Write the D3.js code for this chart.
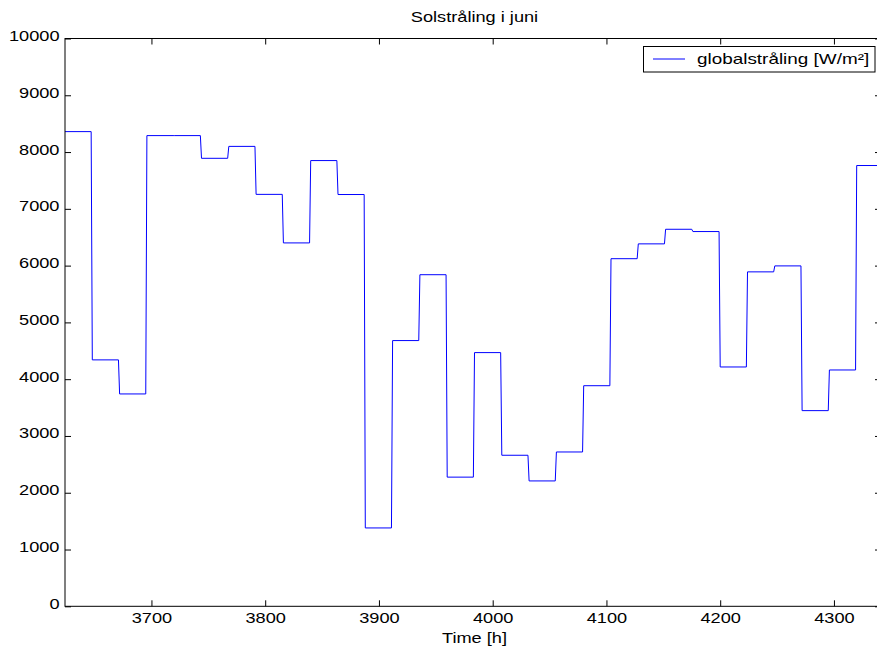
<!DOCTYPE html>
<html>
<head>
<meta charset="utf-8">
<script src="https://cdn.jsdelivr.net/npm/d3@7/dist/d3.min.js"></script>
<style>
  html, body { margin: 0; padding: 0; background: #fff; }
  svg { display: block; }
  text { font-family: "Liberation Sans", Arial, Helvetica, sans-serif; font-size: 14px; fill: #000; }
</style>
</head>
<body>
<script>
// Hourly simulation time for June: hour 3624 to 4344, one value per day
const startHour = 3624;
const endHour = 4344;
const hoursPerDay = 24;
const dailyRadiation = [
  8360, 4340, 3740, 8290, 8290, 7890, 8100, 7255, 6400, 7850,
  7252, 1380, 4680, 5840, 2275, 4468, 2660, 2208, 2718, 3885,
  6122, 6383, 6640, 6600, 4215, 5890, 5995, 3446, 4162, 7763
];
const xTicks = [3700, 3800, 3900, 4000, 4100, 4200, 4300];
const yTicks = [0, 1000, 2000, 3000, 4000, 5000, 6000, 7000, 8000, 9000, 10000];
const titleText = "Solstråling i juni";
const xLabelText = "Time [h]";
const legendText = "globalstråling [W/m²]";

const W = 877, H = 652;
const plotLeft = 65, plotRight = 884, plotTop = 38.5, plotBottom = 606.3;
const textScale = 1.3;
const tick = 6;

const svg = d3.select("body").append("svg").attr("width", W).attr("height", H);

const x = d3.scaleLinear().domain([startHour, endHour]).range([plotLeft, plotRight]);
const y = d3.scaleLinear().domain([0, 10000]).range([plotBottom, plotTop]);

// Each day is held constant over its hours; the next day starts one hour later
const points = [];
dailyRadiation.forEach((v, i) => {
  const s = startHour + i * hoursPerDay;
  points.push([s, v]);
  points.push([s + hoursPerDay - 1, v]);
});

svg.append("clipPath").attr("id", "plotclip")
  .append("rect").attr("x", plotLeft).attr("y", plotTop)
  .attr("width", plotRight - plotLeft).attr("height", plotBottom - plotTop);

svg.append("path")
  .datum(points)
  .attr("clip-path", "url(#plotclip)")
  .attr("fill", "none")
  .attr("stroke", "#0000ff")
  .attr("stroke-width", 1)
  .attr("d", d3.line().x(d => x(d[0])).y(d => y(d[1])));

// Axes with inward ticks on all four sides
const gB = svg.append("g").attr("transform", `translate(0,${plotBottom})`)
  .call(d3.axisBottom(x).tickValues(xTicks).tickSizeInner(-tick).tickSizeOuter(0).tickFormat(d3.format("d")));
const gT = svg.append("g").attr("transform", `translate(0,${plotTop})`)
  .call(d3.axisTop(x).tickValues(xTicks).tickSizeInner(-tick).tickSizeOuter(0).tickFormat(""));
const gL = svg.append("g").attr("transform", `translate(${plotLeft},0)`)
  .call(d3.axisLeft(y).tickValues(yTicks).tickSizeInner(-tick).tickSizeOuter(0).tickFormat(d3.format("d")));
const gR = svg.append("g").attr("transform", `translate(${plotRight},0)`)
  .call(d3.axisRight(y).tickValues(yTicks).tickSizeInner(-(tick + 3)).tickSizeOuter(0).tickFormat(""));

[gB, gT, gL, gR].forEach(g => {
  g.select(".domain").remove();
  g.selectAll(".tick line").attr("stroke", "#000").attr("stroke-width", 1);
  g.attr("font-family", null).attr("font-size", null);
});

gB.selectAll(".tick text")
  .attr("y", null).attr("dy", null)
  .attr("text-anchor", "middle")
  .attr("transform", `translate(0,16.5) scale(${textScale},1)`);
gL.selectAll(".tick text")
  .attr("x", null).attr("dy", null)
  .attr("text-anchor", "end")
  .attr("transform", `translate(-5.5,2) scale(${textScale},1)`);
gT.selectAll(".tick text").remove();
gR.selectAll(".tick text").remove();

// Plot box
svg.append("rect")
  .attr("x", plotLeft).attr("y", plotTop)
  .attr("width", plotRight - plotLeft).attr("height", plotBottom - plotTop)
  .attr("fill", "none").attr("stroke", "#000").attr("stroke-width", 1);

// Title and axis label
svg.append("text")
  .attr("text-anchor", "middle")
  .attr("transform", `translate(${(plotLeft + plotRight) / 2},21.5) scale(${textScale},1)`)
  .text(titleText);
svg.append("text")
  .attr("text-anchor", "middle")
  .attr("transform", `translate(${(plotLeft + plotRight) / 2},643) scale(${textScale},1)`)
  .text(xLabelText);

// Legend
const lg = svg.append("g");
lg.append("rect")
  .attr("x", 643.5).attr("y", 46.5).attr("width", 231.5).attr("height", 25.5)
  .attr("fill", "#fff").attr("stroke", "#000").attr("stroke-width", 1);
lg.append("line")
  .attr("x1", 653).attr("x2", 685).attr("y1", 59).attr("y2", 59)
  .attr("stroke", "#0000ff").attr("stroke-width", 1);
lg.append("text")
  .attr("transform", `translate(697,64) scale(1.35,1)`)
  .text(legendText);
</script>
</body>
</html>
